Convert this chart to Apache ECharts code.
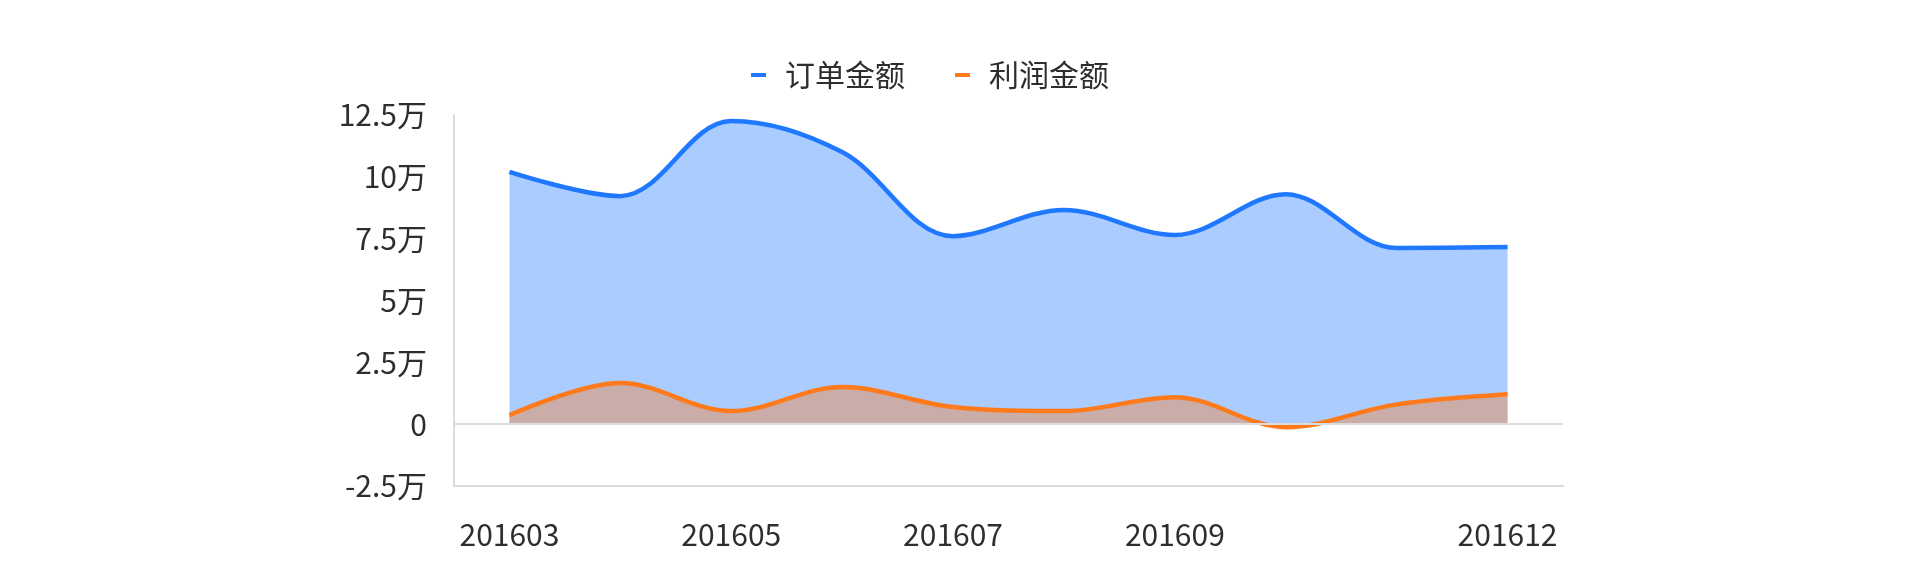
<!DOCTYPE html>
<html>
<head>
<meta charset="utf-8">
<script src="https://cdn.jsdelivr.net/npm/echarts@6/dist/echarts.min.js"></script>
<style>
  html, body { margin: 0; padding: 0; background: #fff; }
  #main { width: 1920px; height: 564px; }
</style>
</head>
<body>
<div id="main"></div>
<script>
var months = ["201603", "201604", "201605", "201606", "201607", "201608", "201609", "201610", "201611", "201612"];
var orderAmount = [102000, 92200, 122600, 110000, 76000, 86600, 76500, 93000, 71200, 71600];
var profitAmount = [3600, 16600, 5300, 15000, 6900, 5300, 10900, -1200, 8000, 12100];
var shownLabels = [0, 2, 4, 6, 9];

var font = "Noto Sans CJK SC";
var chart = echarts.init(document.getElementById("main"));

function lineSeries(name, data, color) {
  return {
    name: name,
    type: "line",
    smooth: 0.35,
    showSymbol: false,
    data: data,
    itemStyle: { color: color },
    lineStyle: { color: color, width: 4.5 },
    areaStyle: { color: color, opacity: 0.38 }
  };
}

var order = lineSeries("订单金额", orderAmount, "#1f78ff");
// gray line at zero
order.markLine = {
  silent: true,
  symbol: "none",
  label: { show: false },
  lineStyle: { color: "#dcdcdc", width: 2, type: "solid" },
  data: [{ yAxis: 0 }]
};

chart.setOption({
  animation: false,
  textStyle: { fontFamily: font },
  legend: {
    left: 746,
    top: 55,
    icon: "rect",
    itemWidth: 15,
    itemHeight: 4,
    itemGap: 50,
    textStyle: { fontSize: 30, color: "#2e2e2e", fontFamily: font, padding: [0, 0, 0, 14] },
    data: ["订单金额", "利润金额"]
  },
  grid: { left: 454, right: 357, top: 115, bottom: 78 },
  xAxis: [{
    type: "category",
    boundaryGap: true,
    data: months,
    axisLine: { onZero: false, lineStyle: { color: "#dcdcdc", width: 2 } },
    axisTick: { show: false },
    axisLabel: {
      fontSize: 30,
      color: "#2e2e2e",
      margin: 34,
      interval: function(index) { return shownLabels.indexOf(index) >= 0; }
    }
  }, {
    type: "category",
    data: months,
    show: false
  }],
  yAxis: {
    type: "value",
    min: -25000,
    max: 125000,
    interval: 25000,
    axisLine: { show: true, lineStyle: { color: "#dcdcdc", width: 2 } },
    axisTick: { show: false },
    splitLine: { show: false },
    axisLabel: {
      fontSize: 30,
      color: "#2e2e2e",
      margin: 27,
      formatter: function(v) { return v === 0 ? "0" : (v / 10000) + "万"; }
    }
  },
  dataZoom: [{
    type: "slider",
    xAxisIndex: 1,
    left: 337,
    right: 357,
    top: 559,
    height: 30,
    start: 81,
    end: 100,
    backgroundColor: "#eef0f6",
    borderColor: "#dfe3ec",
    fillerColor: "rgba(214,221,246,0.9)",
    handleStyle: { color: "#fff", borderColor: "#9aa4bd" },
    moveHandleStyle: { opacity: 0 },
    showDataShadow: false
  }],
  series: [order, lineSeries("利润金额", profitAmount, "#ff7a1a")]
});
</script>
</body>
</html>
